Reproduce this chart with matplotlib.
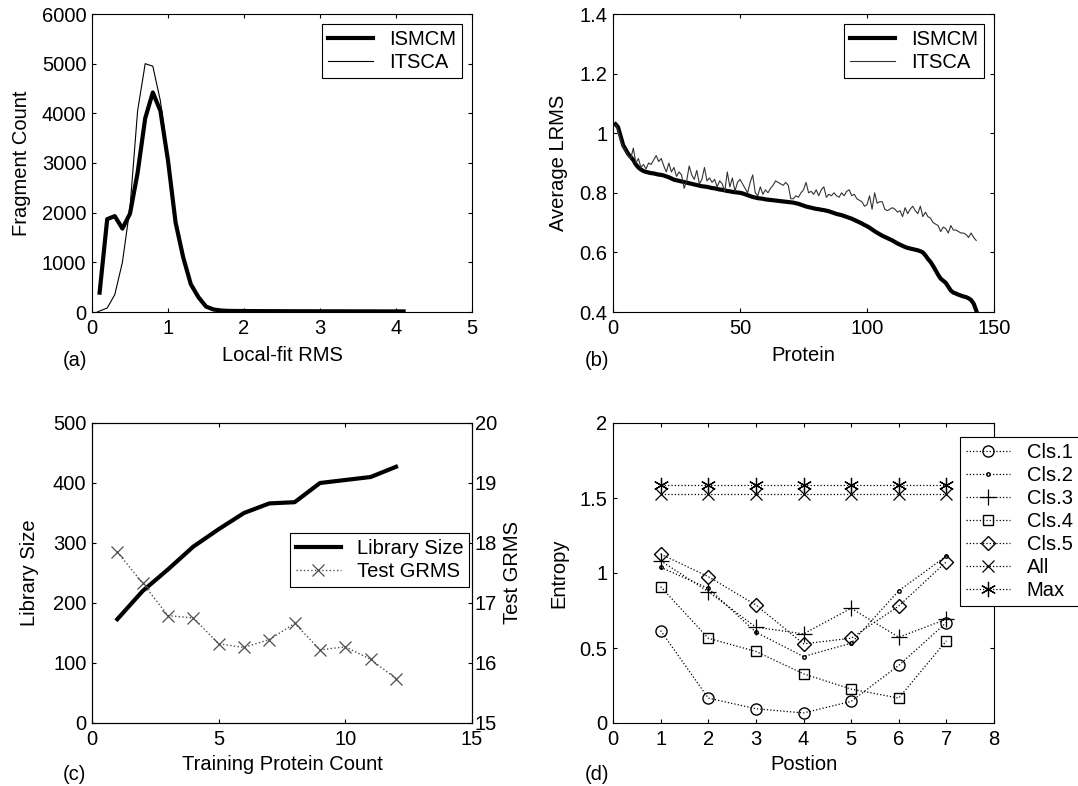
import matplotlib
matplotlib.use("Agg")
import matplotlib.pyplot as plt
import numpy as np

plt.rcParams['font.family'] = ['Liberation Sans', 'DejaVu Sans']
plt.rcParams['font.size'] = 14.5
plt.rcParams['xtick.direction'] = 'in'
plt.rcParams['ytick.direction'] = 'in'
plt.rcParams['xtick.top'] = True
plt.rcParams['ytick.right'] = True
plt.rcParams['xtick.major.size'] = 3
plt.rcParams['ytick.major.size'] = 3
plt.rcParams['xtick.major.pad'] = 5
plt.rcParams['ytick.major.pad'] = 4
plt.rcParams['axes.linewidth'] = 0.8

# ---- (a) fragment count vs local-fit RMS ----
rms_x = [0.1, 0.2, 0.3, 0.4, 0.5, 0.6, 0.7, 0.8, 0.9, 1.0,
         1.1, 1.2, 1.3, 1.4, 1.5, 1.6, 1.7, 1.8, 1.9, 2.0,
         2.1, 2.2, 2.3, 2.4, 2.5, 2.6, 2.7, 2.8, 2.9, 3.0,
         3.1, 3.2, 3.3, 3.4, 3.5, 3.6, 3.7, 3.8, 3.9, 4.0, 4.1]
ismcm_count = [390, 1870, 1930, 1680, 1980, 2800, 3900, 4420, 4050, 3050,
               1800, 1100, 560, 300, 110, 50, 30, 22, 20, 20,
               18, 18, 17, 17, 16, 16, 15, 15, 15, 14,
               14, 14, 14, 13, 13, 13, 13, 12, 12, 12, 12]
itsca_x = [0.07, 0.1, 0.2, 0.3, 0.4, 0.5, 0.6, 0.7, 0.8, 0.9, 1.0,
           1.1, 1.2, 1.3, 1.4, 1.5, 1.6, 1.7, 1.8]
itsca_count = [0, 20, 80, 350, 1000, 2100, 4050, 5000, 4950, 4250, 3100,
               1850, 1050, 520, 260, 100, 40, 20, 10]

# ---- (b) average LRMS per protein (sorted) ----
ismcm_lrms = [1.03, 1.02, 0.99, 0.96, 0.945, 0.93, 0.92, 0.91, 0.895, 0.885,
              0.878, 0.873, 0.870, 0.868, 0.866, 0.865, 0.863, 0.861, 0.860, 0.858,
              0.855, 0.852, 0.848, 0.844, 0.842, 0.840, 0.838, 0.836, 0.834, 0.832,
              0.830, 0.828, 0.826, 0.824, 0.822, 0.821, 0.820, 0.818, 0.816, 0.815,
              0.813, 0.811, 0.810, 0.808, 0.806, 0.805, 0.803, 0.802, 0.801, 0.800,
              0.798, 0.795, 0.792, 0.789, 0.786, 0.784, 0.782, 0.781, 0.780, 0.778,
              0.777, 0.776, 0.775, 0.774, 0.773, 0.772, 0.771, 0.770, 0.769, 0.768,
              0.767, 0.765, 0.763, 0.760, 0.757, 0.754, 0.752, 0.750, 0.748, 0.746,
              0.745, 0.743, 0.742, 0.740, 0.738, 0.735, 0.732, 0.729, 0.727, 0.725,
              0.722, 0.719, 0.716, 0.713, 0.709, 0.705, 0.701, 0.697, 0.692, 0.688,
              0.683, 0.677, 0.671, 0.666, 0.661, 0.656, 0.652, 0.648, 0.644, 0.640,
              0.635, 0.630, 0.626, 0.622, 0.618, 0.615, 0.613, 0.611, 0.609, 0.607,
              0.604, 0.600, 0.590, 0.578, 0.568, 0.555, 0.540, 0.525, 0.512, 0.505,
              0.498, 0.485, 0.472, 0.465, 0.462, 0.458, 0.455, 0.452, 0.450, 0.446,
              0.440, 0.428, 0.405]
itsca_lrms = [1.03, 1.01, 0.975, 0.955, 0.94, 0.925, 0.915, 0.95, 0.90, 0.915,
              0.885, 0.895, 0.88, 0.90, 0.895, 0.91, 0.925, 0.905, 0.915, 0.89,
              0.87, 0.90, 0.87, 0.885, 0.855, 0.87, 0.86, 0.815, 0.84, 0.89,
              0.86, 0.845, 0.875, 0.83, 0.845, 0.885, 0.84, 0.85, 0.835, 0.845,
              0.82, 0.84, 0.83, 0.805, 0.87, 0.82, 0.85, 0.805, 0.835, 0.845,
              0.83, 0.815, 0.80, 0.835, 0.86, 0.80, 0.79, 0.82, 0.795, 0.81,
              0.80, 0.815, 0.825, 0.84, 0.835, 0.83, 0.825, 0.835, 0.825, 0.78,
              0.78, 0.79, 0.785, 0.80, 0.81, 0.835, 0.80, 0.805, 0.795, 0.81,
              0.79, 0.81, 0.82, 0.785, 0.795, 0.79, 0.80, 0.79, 0.785, 0.80,
              0.79, 0.805, 0.81, 0.79, 0.795, 0.78, 0.775, 0.77, 0.755, 0.76,
              0.79, 0.745, 0.80, 0.765, 0.77, 0.77, 0.745, 0.74, 0.745, 0.75,
              0.745, 0.735, 0.74, 0.72, 0.75, 0.73, 0.745, 0.755, 0.74, 0.73,
              0.755, 0.72, 0.735, 0.72, 0.715, 0.70, 0.695, 0.69, 0.67, 0.685,
              0.68, 0.665, 0.69, 0.675, 0.675, 0.67, 0.665, 0.665, 0.66, 0.65,
              0.665, 0.65, 0.64]
protein = np.arange(1, len(ismcm_lrms) + 1)

# ---- (c) library size / test GRMS vs training proteins ----
train_count = [1, 2, 3, 4, 5, 6, 7, 8, 9, 10, 11, 12]
library_size = [173, 220, 256, 294, 323, 350, 366, 368, 400, 405, 410, 427]
test_grms = [17.85, 17.33, 16.79, 16.75, 16.32, 16.26, 16.39, 16.66, 16.22, 16.27, 16.06, 15.74]

# ---- (d) entropy per position ----
position = [1, 2, 3, 4, 5, 6, 7]
cls1 = [0.616, 0.166, 0.095, 0.067, 0.144, 0.384, 0.670]
cls2 = [1.038, 0.898, 0.605, 0.443, 0.532, 0.882, 1.113]
cls3 = [1.082, 0.876, 0.639, 0.594, 0.765, 0.572, 0.692]
cls4 = [0.909, 0.565, 0.477, 0.328, 0.226, 0.166, 0.548]
cls5 = [1.126, 0.976, 0.787, 0.528, 0.565, 0.780, 1.075]
ent_all = [1.53] * 7
ent_max = [1.585] * 7

W, H = 1078, 786
fig = plt.figure(figsize=(W / 100, H / 100), dpi=100)


def box(l, t, r, b):
    return [l / W, 1 - b / H, (r - l) / W, (b - t) / H]


def frame_legend(ax, **kw):
    leg = ax.legend(fancybox=False, framealpha=1, edgecolor='black',
                    handlelength=2.2, borderpad=0.3, labelspacing=0.2, **kw)
    leg.get_frame().set_linewidth(0.8)
    return leg


# (a)
ax = fig.add_axes(box(92, 14, 472, 312))
ax.plot(rms_x, ismcm_count, color='black', lw=3, label='ISMCM')
ax.plot(itsca_x, itsca_count, color='black', lw=0.8, label='ITSCA')
ax.set_xlim(0, 5)
ax.set_ylim(0, 6000)
ax.set_xticks([0, 1, 2, 3, 4, 5])
ax.set_xlabel('Local-fit RMS', labelpad=6)
ax.set_ylabel('Fragment Count', labelpad=8)
frame_legend(ax, loc='upper right', borderaxespad=0.5)
fig.text(63 / W, 1 - 360 / H, '(a)', va='center')

# (b)
ax = fig.add_axes(box(613, 14, 994, 312))
ax.plot(protein, ismcm_lrms, color='black', lw=3, label='ISMCM')
ax.plot(protein, itsca_lrms, color='0.2', lw=0.8, label='ITSCA')
ax.set_xlim(0, 150)
ax.set_ylim(0.4, 1.4)
ax.set_xticks([0, 50, 100, 150])
ax.set_yticks([0.4, 0.6, 0.8, 1.0, 1.2, 1.4])
ax.set_yticklabels(['0.4', '0.6', '0.8', '1', '1.2', '1.4'])
ax.set_xlabel('Protein', labelpad=6)
ax.set_ylabel('Average LRMS', labelpad=8)
frame_legend(ax, loc='upper right', borderaxespad=0.5)
fig.text(585 / W, 1 - 360 / H, '(b)', va='center')

# (c)
ax = fig.add_axes(box(92, 423, 472, 723))
ax2 = ax.twinx()
l1, = ax.plot(train_count, library_size, color='black', lw=3, label='Library Size')
l2, = ax2.plot(train_count, test_grms, color='0.3', lw=1, ls=':', marker='x',
               ms=8, mew=0.9, label='Test GRMS')
ax.set_xlim(0, 15)
ax.set_ylim(0, 500)
ax2.set_ylim(15, 20)
ax.set_xticks([0, 5, 10, 15])
ax.tick_params(right=False)
ax2.tick_params(direction='in', right=True, length=3, pad=2)
ax.set_xlabel('Training Protein Count', labelpad=4)
ax.set_ylabel('Library Size', labelpad=10)
ax2.set_ylabel('Test GRMS', labelpad=4)
leg = ax2.legend([l1, l2], ['Library Size', 'Test GRMS'], loc='upper right',
                 bbox_to_anchor=(0.993, 0.633), borderaxespad=0, fancybox=False,
                 framealpha=1, edgecolor='black', handlelength=2.2, borderpad=0.3,
                 labelspacing=0.2)
leg.get_frame().set_linewidth(0.8)
fig.text(63 / W, 1 - 774 / H, '(c)', va='center')

# (d)
ax = fig.add_axes(box(613, 423, 994, 723))
dot = dict(color='black', ls=':', lw=0.9, mfc='none', mec='black')
ax.plot(position, cls1, marker='o', ms=8, label='Cls.1', **dot)
ax.plot(position, cls2, marker='.', ms=5, label='Cls.2', **dot)
ax.plot(position, cls3, marker='+', ms=11, mew=0.9, label='Cls.3', **dot)
ax.plot(position, cls4, marker='s', ms=7.5, label='Cls.4', **dot)
ax.plot(position, cls5, marker='D', ms=7, label='Cls.5', **dot)
ax.plot(position, ent_all, marker='x', ms=8, mew=0.9, label='All', **dot)
ax.plot(position, ent_max, marker=(6, 2, 0), ms=11, mew=0.9, label='Max', **dot)
ax.set_xlim(0, 8)
ax.set_ylim(0, 2)
ax.set_xticks(range(9))
ax.set_yticks([0, 0.5, 1, 1.5, 2])
ax.set_yticklabels(['0', '0.5', '1', '1.5', '2'])
ax.set_xlabel('Postion', labelpad=4)
ax.set_ylabel('Entropy', labelpad=8)
frame_legend(ax, loc='upper left', bbox_to_anchor=(0.911, 0.953), borderaxespad=0)
fig.text(585 / W, 1 - 774 / H, '(d)', va='center')

fig.savefig('out.png', dpi=100)
